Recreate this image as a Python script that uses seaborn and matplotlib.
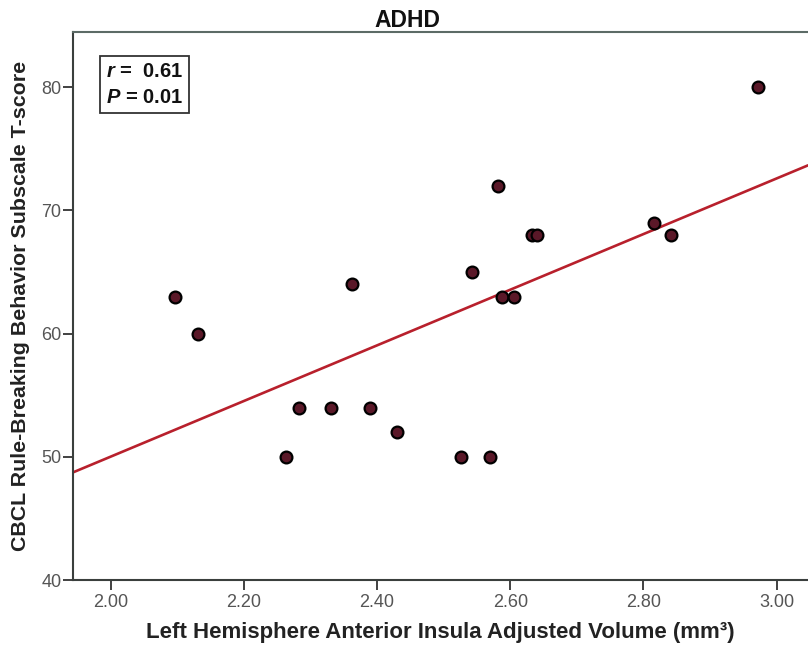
import numpy as np
import pandas as pd
import matplotlib
matplotlib.use("Agg")
import matplotlib.pyplot as plt
import seaborn as sns

# values (ADHD group)
insula_volume = [2.097, 2.131, 2.263, 2.283, 2.331, 2.362, 2.389, 2.430, 2.526, 2.543,
                 2.569, 2.581, 2.587, 2.605, 2.633, 2.640, 2.816, 2.842, 2.972]
rule_breaking = [63, 60, 50, 54, 54, 64, 54, 52, 50, 65,
                 50, 72, 63, 63, 68, 68, 69, 68, 80]
x_ticks = [2.00, 2.20, 2.40, 2.60, 2.80, 3.00]
y_ticks = [40, 50, 60, 70, 80]

df = pd.DataFrame({"volume": insula_volume, "tscore": rule_breaking})

sns.set_style("ticks")
plt.rcParams["font.family"] = ["Liberation Sans", "DejaVu Sans"]
plt.rcParams["mathtext.fontset"] = "custom"
plt.rcParams["mathtext.it"] = "Liberation Sans:italic:bold"
plt.rcParams["mathtext.rm"] = "Liberation Sans:bold"

fig = plt.figure(figsize=(8.08, 6.52), dpi=100)
ax = fig.add_axes([0.09, 0.1104, 0.91, 0.841])

# set limits first so the fit line runs across the whole axis
ax.set_xlim(1.943, 3.047)
ax.set_ylim(40, 84.5)

sns.regplot(
    data=df, x="volume", y="tscore", ax=ax,
    ci=None, truncate=False,
    scatter_kws=dict(s=72, color="#5a1828", edgecolors="black", linewidths=1.6, alpha=1, zorder=3),
    line_kws=dict(color="#b8202c", linewidth=1.9, zorder=2),
)

ax.set_xlim(1.943, 3.047)
ax.set_ylim(40, 84.5)
ax.set_xticks(x_ticks)
ax.set_xticklabels([f"{t:.2f}" for t in x_ticks])
ax.set_yticks(y_ticks)

ax.tick_params(axis="both", direction="out", length=7, width=1.3, color="#333333",
               labelsize=13, labelcolor="#555555")
ax.tick_params(axis="x", pad=3)
ax.tick_params(axis="y", pad=1)

for side in ["left", "bottom", "top"]:
    ax.spines[side].set_visible(True)
    ax.spines[side].set_linewidth(1.5)
    ax.spines[side].set_color("#3a3f3d")
ax.spines["top"].set_color("#5c6b66")
ax.spines["right"].set_visible(False)

ax.set_xlabel("Left Hemisphere Anterior Insula Adjusted Volume (mm\u00b3)",
              fontsize=16, fontweight="bold", color="#222222", labelpad=8)
ax.set_ylabel("CBCL Rule-Breaking Behavior Subscale T-score",
              fontsize=15.4, fontweight="bold", color="#222222", labelpad=8)

fig.text(0.504, 0.968, "ADHD", ha="center", va="center",
         fontsize=16.5, fontweight="bold", color="#111111")

ax.text(0.045, 0.945, "$\\it{r}$ =  0.61\n$\\it{P}$ = 0.01",
        transform=ax.transAxes, ha="left", va="top",
        fontsize=14.5, fontweight="bold", color="#111111", linespacing=1.45,
        bbox=dict(boxstyle="square,pad=0.3", fc="white", ec="#333333", lw=1.3))

fig.savefig("out.png", dpi=100)
